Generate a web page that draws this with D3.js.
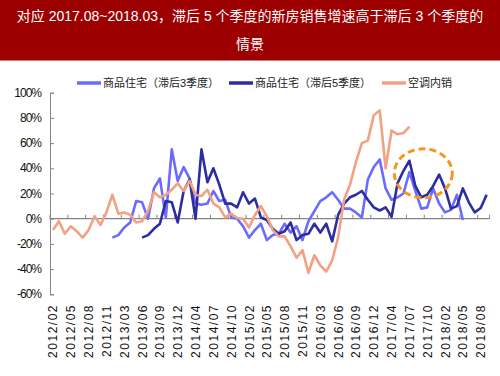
<!DOCTYPE html>
<html>
<head>
<meta charset="utf-8">
<script src="https://cdn.jsdelivr.net/npm/d3@7"></script>
<style>
  body { margin: 0; background: #fff; }
  svg { display: block; }
</style>
</head>
<body>
<div id="chart"></div>
<script>
// months (Jan merged into Feb)
const months = [
  "2012/02","2012/03","2012/04","2012/05","2012/06","2012/07","2012/08","2012/09","2012/10","2012/11","2012/12",
  "2013/02","2013/03","2013/04","2013/05","2013/06","2013/07","2013/08","2013/09","2013/10","2013/11","2013/12",
  "2014/02","2014/03","2014/04","2014/05","2014/06","2014/07","2014/08","2014/09","2014/10","2014/11","2014/12",
  "2015/02","2015/03","2015/04","2015/05","2015/06","2015/07","2015/08","2015/09","2015/10","2015/11","2015/12",
  "2016/02","2016/03","2016/04","2016/05","2016/06","2016/07","2016/08","2016/09","2016/10","2016/11","2016/12",
  "2017/02","2017/03","2017/04","2017/05","2017/06","2017/07","2017/08","2017/09","2017/10","2017/11","2017/12",
  "2018/02","2018/03","2018/04","2018/05","2018/06","2018/07","2018/08","2018/09"
];

// 商品住宅（滞后3季度）
const houseLag3 = [
  null,null,null,null,null,null,null,null,null,null,
  -15,-13,-7,-3,14,13,0,24,32,1,55,30,41,32,12,11,12,22,14,15,1,0,-6,-15,-9,-4,-17,-13,-12,-4,
  -11,-6,-17,-2,6,14,17,21,15,8,8,5,1,31,41,47,24,15,17,20,37,22,8,9,24,12,5,7,19,-1,
  null,null,null,null
];

// 商品住宅（滞后5季度）
const houseLag5 = [
  null,null,null,null,null,null,null,null,null,null,null,null,null,null,null,
  -15,-13,-8,-4,14,13,-3,22,31,0,55,29,40,27,12,12,9,21,12,16,1,-1,-8,-12,-10,
  -3,-17,-13,-12,-4,-11,-4,-18,3,12,17,19,22,15,9,6.5,9,1.5,28,38,46,26,17,19,26,35,24,8,10,24,
  13,5,8.5,19
];

// 空调内销
const acSales = [
  -9,-2,-12,-6,-10,-15,-9,2,-5,5,19,4,5,3,-3,-2,6,21,17,19,23,28,22,30,19,18,23,12,9,1,
  4,0.5,0,-7,3,10,2,-9,-14,-14,-22,-31,-25,-43,-29,-37,-42,-33,-15,15,27,45,60,62,82,86,40,70,67,68,
  73,
  null,null,null,null,null,null,null,null,null,null,null,null,null
];

const yTicks = [-60, -40, -20, 0, 20, 40, 60, 80, 100];
const xTickLabels = months.filter((m, i) => i % 3 === 0);

const seriesNames = ["商品住宅（滞后3季度）", "商品住宅（滞后5季度）", "空调内销"];
const seriesColors = ["#6b6bff", "#2d2d9f", "#f2a182"];
const seriesData = [houseLag3, houseLag5, acSales];

const W = 500, H = 376;
const svg = d3.select("#chart").append("svg")
    .attr("width", W)
    .attr("height", H);

// title banner
svg.append("rect")
    .attr("x", 0).attr("y", 0)
    .attr("width", W).attr("height", 60.5)
    .attr("fill", "#9c0000");

const titleFont = "'Liberation Sans', 'Noto Sans CJK SC', sans-serif";
svg.append("text")
    .attr("x", W / 2).attr("y", 20.5)
    .attr("text-anchor", "middle")
    .attr("fill", "#fff")
    .style("font-family", titleFont)
    .style("font-size", "14px")
    .text("对应 2017.08~2018.03，滞后 5 个季度的新房销售增速高于滞后 3 个季度的");
svg.append("text")
    .attr("x", W / 2).attr("y", 48.5)
    .attr("text-anchor", "middle")
    .attr("fill", "#fff")
    .style("font-family", titleFont)
    .style("font-size", "14px")
    .text("情景");

// scales
const x = d3.scaleBand()
    .domain(months)
    .range([50, 489.6])
    .padding(0);

const y = d3.scaleLinear()
    .domain([-60, 100])
    .range([294.3, 92.7]);

const cx = d => x(d) + x.bandwidth() / 2;
const axisColor = "#858585";

// y axis (ticks pointing inward)
const yAxis = svg.append("g")
    .attr("transform", "translate(50,0)")
    .call(d3.axisRight(y).tickValues(yTicks).tickSize(4).tickFormat(""));
yAxis.select(".domain").attr("stroke", axisColor);
yAxis.selectAll(".tick line").attr("stroke", axisColor);

svg.selectAll(".ylabel")
    .data(yTicks)
    .enter()
    .append("text")
    .attr("class", "ylabel")
    .attr("x", 41)
    .attr("y", d => y(d) + 4)
    .attr("text-anchor", "end")
    .style("font-family", "'Liberation Sans', Arial, sans-serif")
    .style("font-size", "12px")
    .style("letter-spacing", "-1px")
    .attr("fill", "#111")
    .text(d => d + "%");

// x axis at 0%
svg.append("line")
    .attr("x1", 50).attr("x2", 489.6)
    .attr("y1", y(0)).attr("y2", y(0))
    .attr("stroke", axisColor)
    .attr("stroke-width", 1.2);

svg.selectAll(".xtick")
    .data(xTickLabels.concat(["end"]))
    .enter()
    .append("line")
    .attr("class", "xtick")
    .attr("x1", d => d === "end" ? 489.6 : x(d))
    .attr("x2", d => d === "end" ? 489.6 : x(d))
    .attr("y1", y(0))
    .attr("y2", y(0) - 4)
    .attr("stroke", axisColor);

svg.selectAll(".xlabel")
    .data(xTickLabels)
    .enter()
    .append("text")
    .attr("class", "xlabel")
    .attr("transform", d => "translate(" + (cx(d) + 4.5) + ",304) rotate(-90)")
    .attr("text-anchor", "end")
    .style("font-family", "'Liberation Sans', Arial, sans-serif")
    .style("font-size", "12px")
    .style("letter-spacing", "1.5px")
    .attr("fill", "#111")
    .text(d => d);

// lines
const line = d3.line()
    .defined(d => d.v !== null)
    .x(d => cx(d.m))
    .y(d => y(d.v));

seriesData.forEach(function(vals, k) {
    const pts = months.map((m, i) => ({ m: m, v: vals[i] }));
    svg.append("path")
        .datum(pts)
        .attr("fill", "none")
        .attr("stroke", seriesColors[k])
        .attr("stroke-width", 2.6)
        .attr("stroke-linejoin", "round")
        .attr("d", line);
});

// dashed highlight ellipse
svg.append("ellipse")
    .attr("cx", cx("2017/09") + 2)
    .attr("cy", y(36))
    .attr("rx", 29)
    .attr("ry", 24.5)
    .attr("fill", "none")
    .attr("stroke", "#f7961e")
    .attr("stroke-width", 3)
    .attr("stroke-dasharray", "7,4");

// legend
const legendX = [77, 229, 382];
const legend = svg.selectAll(".legend")
    .data(seriesNames)
    .enter()
    .append("g")
    .attr("class", "legend")
    .attr("transform", (d, i) => "translate(" + legendX[i] + ",83)");

legend.append("line")
    .attr("x1", 0).attr("x2", 24)
    .attr("y1", 0).attr("y2", 0)
    .attr("stroke", (d, i) => seriesColors[i])
    .attr("stroke-width", 3.5);

legend.append("text")
    .attr("x", 26)
    .attr("y", 4)
    .style("font-family", "'Liberation Sans', 'Noto Sans CJK SC', sans-serif")
    .style("font-size", "11px")
    .attr("fill", "#222")
    .text(d => d);
</script>
</body>
</html>
